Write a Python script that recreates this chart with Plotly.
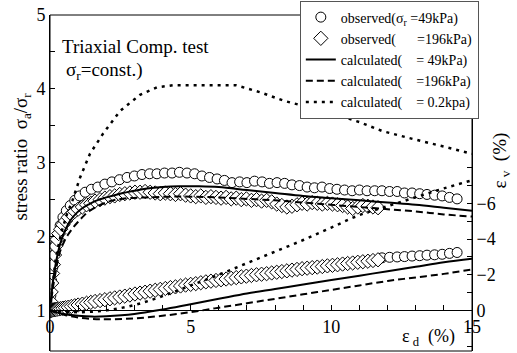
import plotly.graph_objects as go

# ---------------- data ----------------
# observed, sigma_r = 49 kPa : stress ratio
obs49_ed = [0.0, 0.03, 0.06, 0.1, 0.14, 0.2, 0.27, 0.36, 0.46, 0.58, 0.72, 0.88, 1.05, 1.25, 1.47, 1.7,
            1.95, 2.2, 2.47, 2.74, 3.0, 3.27, 3.54, 3.8, 4.07, 4.34, 4.6, 4.87, 5.14, 5.4, 5.67, 5.94,
            6.2, 6.47, 6.74, 7.0, 7.27, 7.54, 7.8, 8.07, 8.34, 8.6, 8.87, 9.14, 9.4, 9.67, 9.94, 10.2,
            10.47, 10.74, 11.0, 11.27, 11.54, 11.8, 12.07, 12.34, 12.6, 12.87, 13.14, 13.4, 13.67,
            13.94, 14.2, 14.47]
obs49_sr = [1.0, 1.2, 1.4, 1.58, 1.75, 1.9, 2.03, 2.15, 2.26, 2.35, 2.42, 2.49, 2.55, 2.6, 2.64, 2.67,
            2.71, 2.74, 2.77, 2.8, 2.82, 2.84, 2.85, 2.85, 2.86, 2.86, 2.87, 2.86, 2.85, 2.82, 2.8, 2.78,
            2.76, 2.73, 2.74, 2.73, 2.75, 2.74, 2.72, 2.73, 2.72, 2.7, 2.69, 2.67, 2.66, 2.67, 2.65, 2.64,
            2.63, 2.62, 2.63, 2.62, 2.62, 2.62, 2.61, 2.61, 2.59, 2.59, 2.58, 2.57, 2.56,
            2.55, 2.53, 2.51]
# observed, sigma_r = 49 kPa : volumetric strain (visible part)
obs49v_ed = [11.8, 12.07, 12.34, 12.6, 12.87, 13.14, 13.4, 13.67, 13.94, 14.2, 14.47]
obs49v_ev = [-2.95, -2.98, -3.0, -3.02, -3.05, -3.07, -3.1, -3.12, -3.15, -3.2, -3.25]

# observed, sigma_r = 196 kPa
obs196_ed = [0, 0.02, 0.04, 0.06, 0.09, 0.12, 0.16, 0.2, 0.25, 0.31, 0.38, 0.46, 0.55, 0.65, 0.76, 0.88,
             1.0, 1.15, 1.3, 1.45, 1.6, 1.78, 1.95, 2.13, 2.3, 2.48, 2.66, 2.84, 3.02, 3.2, 3.38, 3.56,
             3.74, 3.92, 4.1, 4.28, 4.46, 4.64, 4.82, 5.0, 5.18, 5.36, 5.54, 5.72, 5.9, 6.08, 6.26, 6.44,
             6.62, 6.8, 6.98, 7.16, 7.34, 7.52, 7.7, 7.88, 8.06, 8.24, 8.42, 8.6, 8.78, 8.96, 9.14, 9.32,
             9.5, 9.68, 9.86, 10.04, 10.22, 10.4, 10.58, 10.76, 10.94, 11.12, 11.3, 11.48, 11.66]
obs196_sr = [1.0, 1.12, 1.25, 1.37, 1.5, 1.62, 1.75, 1.87, 1.96, 2.04, 2.1, 2.16, 2.21, 2.26, 2.3, 2.34,
             2.37, 2.4, 2.43, 2.45, 2.48, 2.5, 2.52, 2.54, 2.55, 2.57, 2.58, 2.59, 2.6, 2.6, 2.61, 2.6,
             2.59, 2.58, 2.59, 2.58, 2.57, 2.58, 2.56, 2.55, 2.54, 2.55, 2.53, 2.54, 2.53, 2.52, 2.53, 2.51,
             2.52, 2.5, 2.51, 2.49, 2.5, 2.48, 2.49, 2.47, 2.44, 2.42, 2.4, 2.41, 2.43, 2.45, 2.44, 2.46,
             2.45, 2.44, 2.45, 2.44, 2.43, 2.42, 2.4, 2.38, 2.4, 2.42, 2.41, 2.4, 2.39]
obs196_ev = [0, 0.0, 0.0, -0.01, -0.02, -0.03, -0.04, -0.05, -0.06, -0.08, -0.1, -0.12, -0.15, -0.18, -0.22, -0.26,
             -0.3, -0.35, -0.4, -0.45, -0.5, -0.55, -0.6, -0.65, -0.7, -0.75, -0.8, -0.86, -0.92, -0.97, -1.02, -1.08,
             -1.13, -1.18, -1.23, -1.28, -1.32, -1.37, -1.42, -1.46, -1.5, -1.55, -1.6, -1.64, -1.68, -1.72, -1.76, -1.8,
             -1.84, -1.88, -1.92, -1.96, -2.0, -2.03, -2.06, -2.1, -2.14, -2.18, -2.22, -2.26, -2.3, -2.34, -2.37, -2.4,
             -2.43, -2.46, -2.5, -2.53, -2.56, -2.6, -2.63, -2.66, -2.7, -2.73, -2.76, -2.8, -2.84]

# calculated, sigma_r = 49 kPa
calc49_ed = [0, 0.05, 0.1, 0.18, 0.27, 0.36, 0.5, 0.71, 0.95, 1.17, 1.4, 1.67, 2.0, 2.49, 3.0, 3.45, 4.0,
             4.6, 5.3, 6.0, 7.0, 8.0, 9.0, 10.0, 11.0, 12.0, 13.0, 14.0, 15.0]
calc49_sr = [1.0, 1.2, 1.38, 1.58, 1.76, 1.9, 2.05, 2.21, 2.32, 2.39, 2.44, 2.49, 2.53, 2.58, 2.62, 2.65, 2.67,
             2.68, 2.68, 2.67, 2.63, 2.59, 2.55, 2.52, 2.49, 2.46, 2.43, 2.39, 2.35]
calc49v_ed = [0, 0.5, 1, 1.5, 2, 3, 4, 5, 6, 7, 8, 9, 10, 11, 12, 13, 14, 15]
calc49v_ev = [0, 0.2, 0.3, 0.35, 0.33, 0.2, -0.05, -0.35, -0.65, -0.95, -1.2, -1.45, -1.7, -1.95, -2.2,
              -2.45, -2.7, -2.9]

# calculated, sigma_r = 196 kPa
calc196_ed = [0, 0.05, 0.1, 0.2, 0.28, 0.36, 0.5, 0.65, 0.82, 1.0, 1.2, 1.42, 1.8, 2.24, 2.8, 3.45, 4.2,
              5.0, 6.0, 7.0, 8.0, 9.0, 10.0, 11.0, 12.0, 13.0, 14.0, 15.0]
calc196_sr = [1.0, 1.15, 1.3, 1.52, 1.68, 1.8, 1.93, 2.03, 2.12, 2.2, 2.28, 2.35, 2.43, 2.49, 2.52, 2.53, 2.54,
              2.54, 2.53, 2.51, 2.49, 2.46, 2.43, 2.40, 2.37, 2.34, 2.30, 2.27]
calc196v_ed = [0, 0.5, 1, 1.5, 2, 3, 4, 5, 6, 7, 8, 9, 10, 11, 12, 13, 14, 15]
calc196v_ev = [0, 0.25, 0.4, 0.48, 0.5, 0.45, 0.3, 0.1, -0.15, -0.4, -0.65, -0.9, -1.15, -1.4, -1.65,
               -1.85, -2.05, -2.3]

# calculated, sigma_r = 0.2 kPa
calc02_ed = [0, 0.1, 0.2, 0.4, 0.6, 0.8, 1.07, 1.42, 1.88, 2.49, 3.2, 3.8, 4.4, 5.0, 5.5, 6.0, 6.6, 7.5,
             8.3, 9.2, 10.1, 11.0, 11.8, 12.7, 13.6, 14.3, 15.0]
calc02_sr = [1.0, 1.4, 1.7, 2.05, 2.3, 2.49, 2.8, 3.12, 3.39, 3.7, 3.92, 4.02, 4.05, 4.05, 4.05, 4.05, 4.05,
             3.95, 3.84, 3.75, 3.66, 3.55, 3.43, 3.34, 3.26, 3.19, 3.12]
calc02v_ed = [0, 1, 2, 3, 4, 5, 6, 7, 8, 9, 10, 11, 12, 13, 14, 15]
calc02v_ev = [0, 0.1, 0.0, -0.3, -0.8, -1.4, -2.0, -2.65, -3.3, -3.95, -4.65, -5.35, -5.85, -6.35, -6.85, -7.3]

# axis ticks
x_major = [0, 5, 10, 15]
x_minor = [v for v in range(0, 16) if v % 5 != 0]
y_major = [1, 2, 3, 4, 5]
y_minor = [1.5, 2.5, 3.5, 4.5]
y2_major = [-6, -4, -2, 0, 2]
y2_minor = [-8, -7, -5, -3, -1, 1]

legend_names = [
    "observed(σ<sub>r</sub> =49kPa)",
    "observed(\u00a0\u00a0\u00a0\u00a0\u00a0\u00a0=196kPa)",
    "calculated(\u00a0\u00a0\u00a0\u00a0= 49kPa)",
    "calculated(\u00a0\u00a0\u00a0\u00a0=196kPa)",
    "calculated(\u00a0\u00a0\u00a0\u00a0= 0.2kpa)",
]

FONT = "Liberation Serif"
circ = dict(symbol="circle", size=10, color="white", line=dict(color="black", width=1))
diam = dict(symbol="diamond", size=11, color="white", line=dict(color="black", width=1))

fig = go.Figure()
# upper group: stress ratio (left axis)
fig.add_trace(go.Scatter(x=obs49_ed, y=obs49_sr, mode="markers", marker=circ, name=legend_names[0]))
fig.add_trace(go.Scatter(x=obs196_ed, y=obs196_sr, mode="markers", marker=diam, name=legend_names[1]))
fig.add_trace(go.Scatter(x=calc49_ed, y=calc49_sr, mode="lines", line=dict(color="black", width=2, shape="spline"),
                         name=legend_names[2]))
fig.add_trace(go.Scatter(x=calc196_ed, y=calc196_sr, mode="lines",
                         line=dict(color="black", width=2, dash="7px,4px", shape="spline"), name=legend_names[3]))
fig.add_trace(go.Scatter(x=calc02_ed, y=calc02_sr, mode="lines",
                         line=dict(color="black", width=2.5, dash="3px,5px"), name=legend_names[4]))
# lower group: volumetric strain (right axis)
fig.add_trace(go.Scatter(x=obs49v_ed, y=obs49v_ev, mode="markers", marker=circ, yaxis="y2", showlegend=False))
fig.add_trace(go.Scatter(x=obs196_ed, y=obs196_ev, mode="markers", marker=diam, yaxis="y2", showlegend=False))
fig.add_trace(go.Scatter(x=calc49v_ed, y=calc49v_ev, mode="lines", yaxis="y2", showlegend=False,
                         line=dict(color="black", width=2, shape="spline")))
fig.add_trace(go.Scatter(x=calc196v_ed, y=calc196v_ev, mode="lines", yaxis="y2", showlegend=False,
                         line=dict(color="black", width=2, dash="7px,4px", shape="spline")))
fig.add_trace(go.Scatter(x=calc02v_ed, y=calc02v_ev, mode="lines", yaxis="y2", showlegend=False,
                         line=dict(color="black", width=2.5, dash="3px,5px", shape="spline")))

y_lo, y_hi = 0.45, 5.0
f0 = (1 - y_lo) / (y_hi - y_lo)
y2_lo = 2.28
y2_hi = y2_lo - y2_lo / f0

tickfont = dict(family=FONT, size=18, color="black")
minor_common = dict(ticks="inside", ticklen=5, tickcolor="black", showgrid=False)
fig.update_layout(
    width=517, height=353,
    margin=dict(l=50, r=45, t=14, b=2),
    paper_bgcolor="white", plot_bgcolor="white",
    font=dict(family=FONT, color="black"),
    xaxis=dict(range=[0, 15], anchor="free", position=f0, tickmode="array", tickvals=x_major,
               ticks="inside", ticklen=5, tickcolor="black", showline=True, mirror="ticks",
               minor=dict(tickmode="array", tickvals=x_minor, **minor_common),
               linecolor="black", linewidth=1, showgrid=False, zeroline=False, tickfont=tickfont),
    yaxis=dict(range=[y_lo, y_hi], tickmode="array", tickvals=y_major, ticks="inside",
               ticklen=5, tickcolor="black", showline=True, linecolor="black", linewidth=1, showgrid=False,
               minor=dict(tickmode="array", tickvals=y_minor, **minor_common),
               zeroline=False, tickfont=tickfont),
    yaxis2=dict(range=[y2_lo, y2_hi], overlaying="y", side="right", tickmode="array", tickvals=y2_major,
                ticks="inside", ticklen=5, tickcolor="black", showline=True,
                minor=dict(tickmode="array", tickvals=y2_minor, **minor_common),
                linecolor="black", linewidth=1, showgrid=False, zeroline=False, tickfont=tickfont),
    legend=dict(x=0.592, y=1.04, xanchor="left", yanchor="top", bgcolor="white", bordercolor="#555",
                borderwidth=1, font=dict(family=FONT, size=14, color="black"), tracegroupgap=0),
    shapes=[dict(type="rect", xref="paper", yref="paper", x0=0, x1=1, y0=0, y1=1,
                 line=dict(color="black", width=1))],
    annotations=[
        dict(text="stress ratio\u00a0\u00a0σ<sub>a</sub>/σ<sub>r</sub>", textangle=-90, xref="paper",
             yref="paper", x=-0.066, y=0.579, xanchor="center", yanchor="middle", showarrow=False,
             font=dict(size=19)),
        dict(text="Triaxial Comp. test", xref="paper", yref="paper", x=0.024, y=0.905, xanchor="left",
             yanchor="middle", showarrow=False, font=dict(size=19)),
        dict(text="σ<sub>r</sub>=const.)", xref="paper", yref="paper", x=0.033, y=0.834, xanchor="left",
             yanchor="middle", showarrow=False, font=dict(size=19)),
        dict(text="ε<sub> d</sub>\u00a0\u00a0(%)", xref="paper", yref="paper", x=0.896, y=0.04,
             xanchor="center", yanchor="middle", showarrow=False, font=dict(size=18)),
        dict(text="ε<sub> v</sub>\u00a0\u00a0(%)", textangle=-90, xref="paper", yref="paper", x=1.069,
             y=0.567, xanchor="center", yanchor="middle", showarrow=False, font=dict(size=19)),
    ],
)

fig.write_html("out.html")
